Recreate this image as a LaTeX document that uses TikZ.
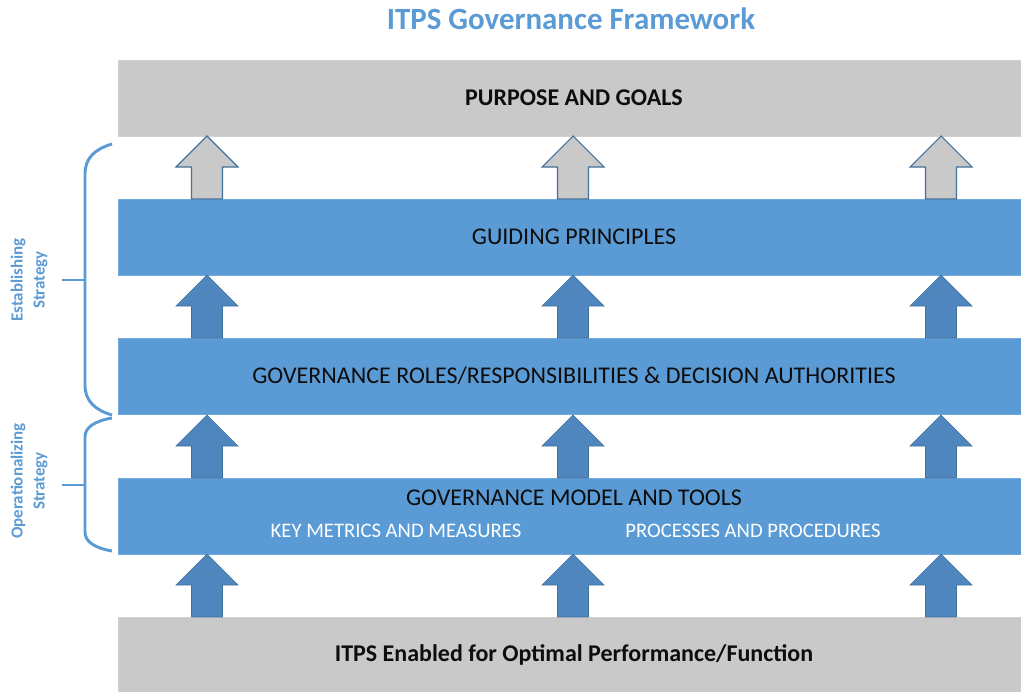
\documentclass[tikz,border=0pt]{standalone}
\usepackage{fontspec}
\setmainfont{Carlito}
\definecolor{barblue}{HTML}{5B9BD5}
\definecolor{bargray}{HTML}{C9C9C9}
\definecolor{arrblue}{HTML}{4E86BD}
\definecolor{arredge}{HTML}{41719C}
\begin{document}
\begin{tikzpicture}[x=0.75pt, y=-0.75pt,
  bar/.style = {draw=#1!85!white, line width=0.6pt, fill=#1, minimum width=677pt, minimum height=57pt, anchor=north west, inner sep=0pt},
  label/.style = {font=\fontsize{18}{21}\selectfont, text=black!95},
  sublabel/.style = {font=\fontsize{15.5}{18}\selectfont, text=white},
  side/.style = {font=\fontsize{12.7}{16.5}\selectfont\bfseries, text=barblue, align=center, rotate=90},
  brace/.style = {draw=barblue, line width=2.2pt},
  uparr/.pic = {\path[pic actions] (0,0) -- (15.5,0) -- (15.5,-32) -- (31,-32) -- (0,-63) -- (-31,-32) -- (-15.5,-32) -- (-15.5,0) -- cycle;}]
  \useasboundingbox (0,0) rectangle (1021,692);
  \node[font=\fontsize{23.2}{27}\selectfont\bfseries, text=barblue] (title) at (571,19) {ITPS Governance Framework};
  \node[bar=bargray] (purpose) at (118,60) {};
  \node[bar=barblue] (guide) at (118,199) {};
  \node[bar=barblue] (roles) at (118,338) {};
  \node[bar=barblue] (model) at (118,478) {};
  \node[bar=bargray] (ground) at (118,617) {};
  \node[label, font=\fontsize{18}{21}\selectfont\bfseries] (purpose-t) at (574,98) {PURPOSE AND GOALS};
  \node[label] (guide-t) at (574,237) {GUIDING PRINCIPLES};
  \node[label] (roles-t) at (574,376) {GOVERNANCE ROLES/RESPONSIBILITIES \& DECISION AUTHORITIES};
  \node[label] (model-t) at (574,498) {GOVERNANCE MODEL AND TOOLS};
  \node[sublabel] (metrics) at (396,531) {KEY METRICS AND MEASURES};
  \node[sublabel] (process) at (753,531) {PROCESSES AND PROCEDURES};
  \node[label, font=\fontsize{18}{21}\selectfont\bfseries] (ground-t) at (574,655) {ITPS Enabled for Optimal Performance/Function};
  \foreach \x in {207,573,941} {
    \pic[fill=bargray, draw=arredge, line width=0.8pt] at (\x,199) {uparr};
    \pic[fill=arrblue, draw=arredge, line width=0.5pt] at (\x,338) {uparr};
    \pic[fill=arrblue, draw=arredge, line width=0.5pt] at (\x,478) {uparr};
    \pic[fill=arrblue, draw=arredge, line width=0.5pt] at (\x,617) {uparr};
  }
  \draw[brace] (112,144) .. controls (95,149) and (85,158) .. (85,174) -- (85,385) .. controls (85,401) and (95,410) .. (112,415);
  \draw[brace] (62,280) -- (85,280);
  \draw[brace] (112,418) .. controls (95,421) and (85,427) .. (85,437) -- (85,532) .. controls (85,542) and (95,548) .. (112,551);
  \draw[brace] (62,485) -- (85,485);
  \node[side] (establish) at (29,280) {Establishing\\Strategy};
  \node[side] (operate) at (29,481) {Operationalizing\\Strategy};
\end{tikzpicture}
\end{document}
